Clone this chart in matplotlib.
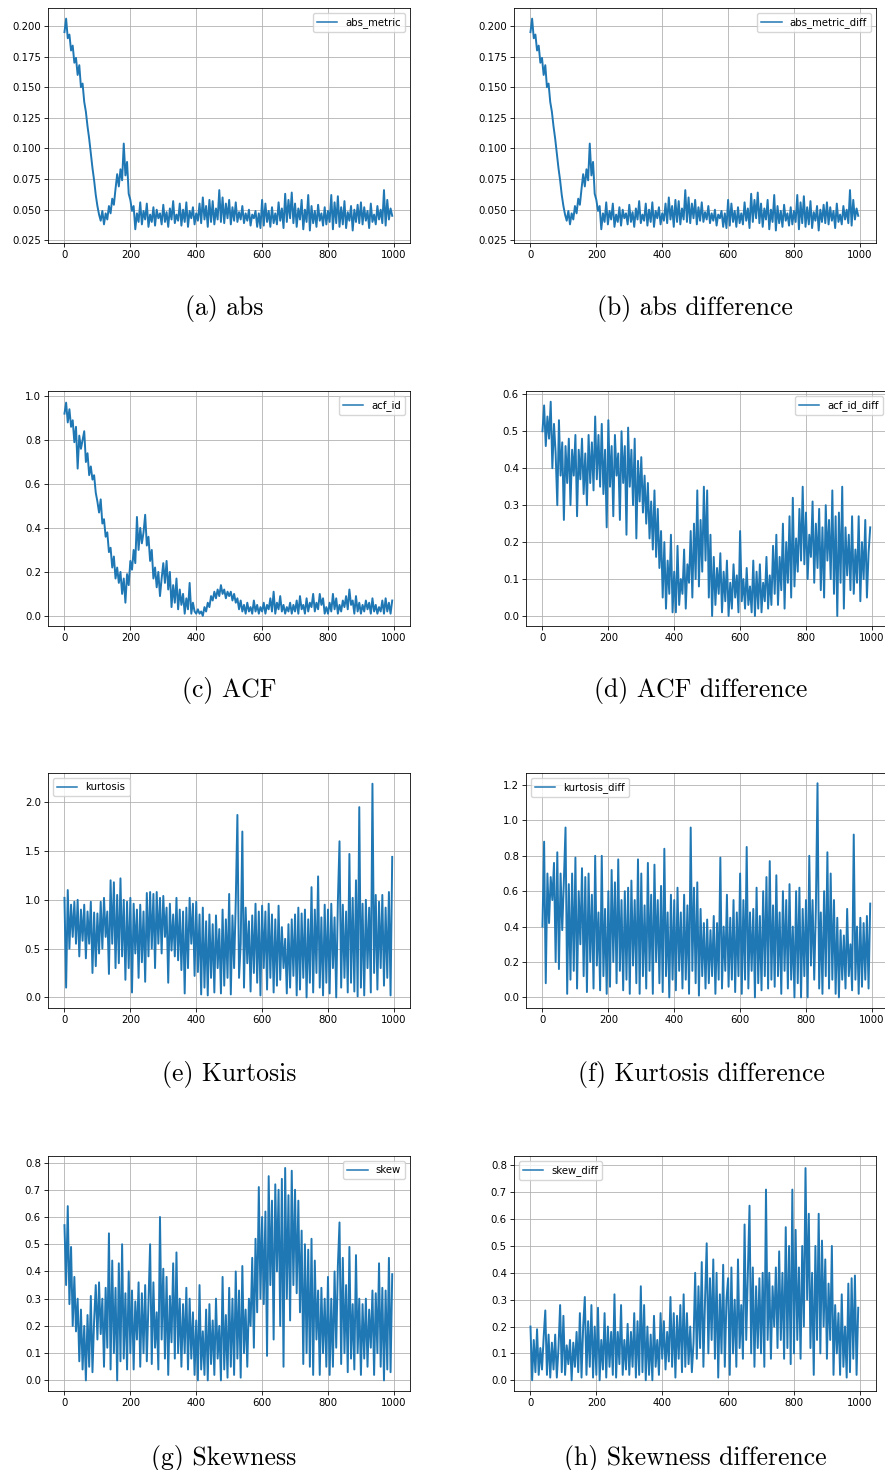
import numpy as np
import matplotlib
matplotlib.use("Agg")
import matplotlib.pyplot as plt
from matplotlib.ticker import MultipleLocator

# values, one sample every 5 steps (0 .. 995)
abs_metric = [
    0.195, 0.206, 0.190, 0.193, 0.180, 0.184, 0.170, 0.174, 0.160, 0.168, 0.150, 0.153, 0.138, 0.130, 0.118, 0.108, 0.096, 0.084, 0.074, 0.062,
    0.053, 0.046, 0.041, 0.049, 0.038, 0.047, 0.042, 0.053, 0.047, 0.059, 0.054, 0.067, 0.079, 0.069, 0.083, 0.074, 0.104, 0.078, 0.089, 0.063,
    0.058, 0.049, 0.053, 0.034, 0.047, 0.040, 0.056, 0.038, 0.049, 0.042, 0.055, 0.036, 0.046, 0.040, 0.052, 0.037, 0.050, 0.043, 0.047, 0.038,
    0.054, 0.040, 0.048, 0.036, 0.051, 0.042, 0.057, 0.039, 0.046, 0.041, 0.055, 0.037, 0.050, 0.040, 0.056, 0.036, 0.049, 0.043, 0.052, 0.038,
    0.047, 0.041, 0.055, 0.039, 0.060, 0.042, 0.053, 0.036, 0.058, 0.040, 0.057, 0.038, 0.051, 0.042, 0.066, 0.040, 0.060, 0.039, 0.055, 0.043,
    0.058, 0.038, 0.052, 0.041, 0.056, 0.040, 0.048, 0.042, 0.053, 0.039, 0.047, 0.041, 0.050, 0.037, 0.046, 0.043, 0.049, 0.036, 0.047, 0.035,
    0.058, 0.037, 0.055, 0.040, 0.049, 0.036, 0.052, 0.039, 0.047, 0.038, 0.056, 0.041, 0.051, 0.035, 0.063, 0.040, 0.058, 0.043, 0.064, 0.039,
    0.055, 0.036, 0.051, 0.042, 0.058, 0.034, 0.050, 0.040, 0.062, 0.033, 0.053, 0.039, 0.049, 0.036, 0.054, 0.041, 0.047, 0.037, 0.052, 0.038,
    0.049, 0.040, 0.062, 0.034, 0.056, 0.039, 0.061, 0.036, 0.052, 0.038, 0.057, 0.035, 0.048, 0.041, 0.053, 0.033, 0.050, 0.040, 0.054, 0.039,
    0.056, 0.038, 0.052, 0.041, 0.049, 0.035, 0.055, 0.040, 0.046, 0.038, 0.053, 0.042, 0.050, 0.039, 0.066, 0.037, 0.058, 0.042, 0.051, 0.045,
]
# the "diff" version of abs looks identical in the reference
abs_metric_diff = list(abs_metric)

acf_id = [
    0.92, 0.97, 0.88, 0.94, 0.86, 0.89, 0.79, 0.86, 0.67, 0.82, 0.76, 0.80, 0.84, 0.70, 0.74, 0.64, 0.68, 0.62, 0.64, 0.56,
    0.52, 0.47, 0.53, 0.42, 0.44, 0.36, 0.38, 0.29, 0.31, 0.22, 0.27, 0.17, 0.22, 0.15, 0.20, 0.10, 0.17, 0.06, 0.19, 0.14,
    0.25, 0.21, 0.30, 0.24, 0.45, 0.30, 0.40, 0.33, 0.38, 0.46, 0.32, 0.36, 0.25, 0.30, 0.17, 0.22, 0.13, 0.20, 0.09, 0.17,
    0.24, 0.15, 0.25, 0.12, 0.20, 0.04, 0.14, 0.06, 0.17, 0.03, 0.12, 0.05, 0.10, 0.01, 0.08, 0.03, 0.15, 0.01, 0.06, 0.02,
    0.01, 0.03, 0.01, 0.02, 0.00, 0.04, 0.02, 0.06, 0.04, 0.09, 0.07, 0.11, 0.08, 0.12, 0.09, 0.14, 0.10, 0.12, 0.08, 0.11,
    0.09, 0.11, 0.07, 0.10, 0.06, 0.08, 0.03, 0.07, 0.02, 0.05, 0.01, 0.06, 0.02, 0.04, 0.01, 0.07, 0.02, 0.05, 0.01, 0.04,
    0.02, 0.06, 0.01, 0.05, 0.03, 0.08, 0.02, 0.11, 0.01, 0.06, 0.03, 0.09, 0.02, 0.05, 0.01, 0.04, 0.02, 0.06, 0.01, 0.05,
    0.02, 0.07, 0.01, 0.09, 0.03, 0.05, 0.01, 0.08, 0.02, 0.06, 0.04, 0.10, 0.02, 0.06, 0.03, 0.10, 0.05, 0.08, 0.01, 0.04,
    0.01, 0.06, 0.02, 0.10, 0.03, 0.08, 0.01, 0.05, 0.02, 0.07, 0.04, 0.09, 0.03, 0.12, 0.05, 0.07, 0.01, 0.09, 0.02, 0.06,
    0.01, 0.05, 0.02, 0.07, 0.03, 0.06, 0.01, 0.08, 0.02, 0.05, 0.01, 0.04, 0.02, 0.07, 0.01, 0.08, 0.02, 0.06, 0.01, 0.07,
]

acf_id_diff = [
    0.50, 0.57, 0.46, 0.54, 0.48, 0.58, 0.40, 0.52, 0.44, 0.30, 0.53, 0.38, 0.47, 0.26, 0.46, 0.36, 0.48, 0.30, 0.45, 0.38,
    0.49, 0.27, 0.45, 0.37, 0.48, 0.33, 0.44, 0.30, 0.49, 0.36, 0.47, 0.34, 0.54, 0.37, 0.49, 0.35, 0.52, 0.33, 0.45, 0.24,
    0.53, 0.35, 0.46, 0.27, 0.49, 0.38, 0.44, 0.26, 0.50, 0.36, 0.46, 0.22, 0.51, 0.35, 0.45, 0.30, 0.48, 0.21, 0.42, 0.31,
    0.43, 0.28, 0.38, 0.25, 0.36, 0.21, 0.31, 0.18, 0.34, 0.16, 0.29, 0.13, 0.23, 0.05, 0.20, 0.02, 0.15, 0.06, 0.22, 0.01,
    0.12, 0.01, 0.19, 0.03, 0.10, 0.06, 0.18, 0.02, 0.14, 0.09, 0.23, 0.05, 0.25, 0.10, 0.34, 0.08, 0.26, 0.12, 0.35, 0.15,
    0.34, 0.05, 0.22, 0.00, 0.16, 0.03, 0.13, 0.06, 0.17, 0.01, 0.12, 0.04, 0.15, 0.00, 0.09, 0.02, 0.14, 0.05, 0.11, 0.01,
    0.23, 0.04, 0.10, 0.02, 0.13, 0.03, 0.08, 0.01, 0.15, 0.00, 0.12, 0.02, 0.14, 0.01, 0.09, 0.04, 0.16, 0.02, 0.11, 0.03,
    0.19, 0.06, 0.22, 0.03, 0.16, 0.07, 0.25, 0.02, 0.20, 0.09, 0.27, 0.05, 0.32, 0.08, 0.21, 0.12, 0.29, 0.15, 0.35, 0.14,
    0.28, 0.10, 0.22, 0.16, 0.31, 0.09, 0.25, 0.13, 0.29, 0.07, 0.24, 0.05, 0.30, 0.15, 0.26, 0.10, 0.34, 0.06, 0.27, 0.00,
    0.28, 0.09, 0.35, 0.02, 0.24, 0.11, 0.22, 0.07, 0.27, 0.06, 0.18, 0.09, 0.27, 0.04, 0.20, 0.10, 0.26, 0.05, 0.17, 0.24,
]

kurtosis = [
    1.02, 0.10, 1.10, 0.50, 0.95, 0.62, 0.98, 0.55, 1.00, 0.42, 0.90, 0.58, 0.95, 0.40, 0.88, 0.55, 0.98, 0.25, 0.87, 0.32,
    0.86, 0.45, 0.98, 0.50, 1.02, 0.62, 0.88, 0.24, 1.20, 0.55, 1.18, 0.30, 1.05, 0.35, 1.22, 0.42, 1.00, 0.18, 0.98, 0.30,
    1.02, 0.05, 0.96, 0.45, 0.90, 0.20, 0.95, 0.36, 0.88, 0.16, 1.07, 0.42, 1.08, 0.50, 1.06, 0.30, 1.08, 0.55, 1.02, 0.45,
    1.04, 0.62, 0.92, 0.15, 0.96, 0.48, 0.85, 0.42, 1.02, 0.38, 0.90, 0.28, 0.88, 0.04, 0.92, 0.30, 1.02, 0.55, 0.96, 0.22,
    0.98, 0.26, 0.85, 0.03, 0.92, 0.10, 0.78, 0.02, 0.85, 0.20, 0.75, 0.05, 0.84, 0.30, 0.70, 0.04, 0.90, 0.12, 0.80, 0.20,
    1.06, 0.03, 0.84, 0.30, 0.98, 1.87, 0.20, 0.55, 1.70, 0.10, 0.92, 0.35, 0.78, 0.06, 0.84, 0.25, 0.96, 0.15, 0.88, 0.02,
    0.94, 0.30, 0.88, 0.08, 0.96, 0.20, 0.85, 0.05, 0.80, 0.12, 0.94, 0.18, 0.72, 0.30, 0.60, 0.04, 0.75, 0.10, 0.80, 0.22,
    0.85, 0.02, 0.92, 0.08, 0.86, 0.20, 0.90, 0.00, 0.80, 0.15, 1.13, 0.05, 0.90, 0.25, 1.24, 0.10, 0.82, 0.02, 0.95, 0.15,
    0.90, 0.04, 0.96, 0.30, 0.82, 0.00, 0.98, 1.60, 0.10, 0.95, 0.20, 0.88, 0.05, 1.47, 0.15, 1.02, 0.06, 1.20, 0.01, 1.95,
    0.10, 0.96, 0.02, 1.00, 0.30, 0.92, 0.05, 2.19, 0.25, 1.05, 0.08, 0.98, 0.30, 1.05, 0.12, 0.92, 0.20, 1.08, 0.02, 1.44,
]

kurtosis_diff = [
    0.40, 0.88, 0.08, 0.70, 0.42, 0.68, 0.55, 0.76, 0.20, 0.82, 0.16, 0.70, 0.38, 0.66, 0.96, 0.02, 0.64, 0.10, 0.70, 0.15,
    0.79, 0.05, 0.60, 0.30, 0.73, 0.12, 0.68, 0.03, 0.70, 0.20, 0.58, 0.05, 0.80, 0.18, 0.48, 0.04, 0.80, 0.12, 0.50, 0.02,
    0.60, 0.06, 0.72, 0.20, 0.65, 0.08, 0.78, 0.15, 0.55, 0.04, 0.60, 0.10, 0.62, 0.02, 0.66, 0.18, 0.55, 0.08, 0.78, 0.02,
    0.70, 0.12, 0.52, 0.05, 0.76, 0.15, 0.58, 0.02, 0.75, 0.20, 0.55, 0.08, 0.63, 0.03, 0.84, 0.12, 0.48, 0.00, 0.58, 0.10,
    0.55, 0.04, 0.62, 0.15, 0.48, 0.05, 0.58, 0.10, 0.52, 0.02, 0.96, 0.15, 0.62, 0.08, 0.65, 0.01, 0.50, 0.12, 0.42, 0.05,
    0.44, 0.08, 0.38, 0.12, 0.46, 0.02, 0.42, 0.10, 0.79, 0.05, 0.40, 0.15, 0.58, 0.06, 0.45, 0.10, 0.55, 0.03, 0.48, 0.12,
    0.70, 0.02, 0.55, 0.10, 0.85, 0.05, 0.48, 0.15, 0.50, 0.00, 0.62, 0.08, 0.46, 0.04, 0.60, 0.12, 0.68, 0.05, 0.77, 0.10,
    0.52, 0.06, 0.69, 0.12, 0.48, 0.02, 0.60, 0.15, 0.55, 0.05, 0.64, 0.10, 0.40, 0.00, 0.60, 0.08, 0.62, 0.00, 0.50, 0.12,
    0.55, 0.00, 0.80, 0.18, 0.55, 0.10, 0.50, 1.21, 0.05, 0.48, 0.02, 0.60, 0.12, 0.82, 0.05, 0.70, 0.10, 0.55, 0.02, 0.45,
    0.00, 0.38, 0.10, 0.35, 0.05, 0.50, 0.12, 0.30, 0.04, 0.92, 0.10, 0.40, 0.02, 0.45, 0.06, 0.42, 0.10, 0.46, 0.05, 0.53,
]

skew = [
    0.57, 0.35, 0.64, 0.28, 0.49, 0.20, 0.38, 0.18, 0.30, 0.07, 0.26, 0.04, 0.20, 0.00, 0.24, 0.05, 0.31, 0.03, 0.22, 0.35,
    0.15, 0.36, 0.17, 0.30, 0.05, 0.34, 0.12, 0.54, 0.04, 0.44, 0.10, 0.34, 0.00, 0.43, 0.07, 0.50, 0.08, 0.32, 0.04, 0.40,
    0.10, 0.33, 0.04, 0.29, 0.15, 0.36, 0.05, 0.32, 0.10, 0.35, 0.07, 0.28, 0.50, 0.06, 0.36, 0.12, 0.25, 0.04, 0.60, 0.15,
    0.41, 0.08, 0.38, 0.02, 0.31, 0.14, 0.43, 0.08, 0.47, 0.10, 0.30, 0.05, 0.28, 0.10, 0.34, 0.04, 0.30, 0.08, 0.25, 0.02,
    0.22, 0.00, 0.35, 0.04, 0.18, 0.02, 0.26, 0.00, 0.28, 0.06, 0.22, 0.02, 0.30, 0.08, 0.20, 0.00, 0.38, 0.04, 0.24, 0.01,
    0.34, 0.05, 0.30, 0.02, 0.40, 0.08, 0.33, 0.01, 0.42, 0.10, 0.26, 0.05, 0.30, 0.20, 0.45, 0.12, 0.52, 0.25, 0.71, 0.30,
    0.60, 0.28, 0.62, 0.09, 0.75, 0.35, 0.66, 0.15, 0.72, 0.40, 0.70, 0.20, 0.74, 0.05, 0.78, 0.30, 0.68, 0.22, 0.77, 0.35,
    0.70, 0.32, 0.66, 0.25, 0.55, 0.06, 0.50, 0.10, 0.48, 0.05, 0.52, 0.02, 0.44, 0.15, 0.33, 0.02, 0.34, 0.10, 0.30, 0.05,
    0.38, 0.02, 0.30, 0.05, 0.40, 0.12, 0.42, 0.58, 0.06, 0.45, 0.10, 0.35, 0.03, 0.49, 0.08, 0.28, 0.04, 0.46, 0.10, 0.30,
    0.02, 0.28, 0.08, 0.30, 0.05, 0.26, 0.12, 0.33, 0.02, 0.32, 0.10, 0.43, 0.05, 0.34, 0.00, 0.33, 0.04, 0.45, 0.03, 0.39,
]

skew_diff = [
    0.20, 0.00, 0.15, 0.03, 0.19, 0.02, 0.12, 0.04, 0.16, 0.26, 0.02, 0.17, 0.01, 0.14, 0.04, 0.17, 0.01, 0.12, 0.28, 0.03,
    0.24, 0.02, 0.13, 0.06, 0.15, 0.00, 0.14, 0.05, 0.18, 0.03, 0.25, 0.01, 0.20, 0.31, 0.02, 0.22, 0.05, 0.28, 0.01, 0.20,
    0.02, 0.27, 0.00, 0.15, 0.04, 0.25, 0.01, 0.20, 0.05, 0.18, 0.02, 0.32, 0.01, 0.18, 0.06, 0.28, 0.02, 0.15, 0.04, 0.21,
    0.02, 0.18, 0.05, 0.25, 0.01, 0.22, 0.02, 0.35, 0.03, 0.28, 0.00, 0.20, 0.02, 0.17, 0.00, 0.24, 0.05, 0.15, 0.02, 0.25,
    0.08, 0.22, 0.04, 0.18, 0.07, 0.31, 0.05, 0.25, 0.01, 0.24, 0.08, 0.28, 0.03, 0.32, 0.05, 0.25, 0.06, 0.20, 0.03, 0.14,
    0.40, 0.08, 0.35, 0.12, 0.44, 0.05, 0.30, 0.51, 0.10, 0.38, 0.15, 0.45, 0.08, 0.40, 0.01, 0.32, 0.10, 0.43, 0.05, 0.30,
    0.38, 0.02, 0.42, 0.10, 0.30, 0.05, 0.45, 0.12, 0.28, 0.08, 0.58, 0.15, 0.40, 0.65, 0.10, 0.42, 0.05, 0.35, 0.12, 0.38,
    0.10, 0.40, 0.05, 0.71, 0.15, 0.40, 0.08, 0.35, 0.20, 0.42, 0.12, 0.48, 0.15, 0.40, 0.08, 0.57, 0.12, 0.50, 0.06, 0.71,
    0.10, 0.56, 0.15, 0.42, 0.08, 0.50, 0.20, 0.79, 0.30, 0.62, 0.12, 0.40, 0.02, 0.50, 0.15, 0.62, 0.10, 0.52, 0.20, 0.45,
    0.08, 0.36, 0.15, 0.50, 0.02, 0.28, 0.10, 0.25, 0.02, 0.32, 0.05, 0.20, 0.01, 0.36, 0.03, 0.38, 0.08, 0.39, 0.02, 0.27,
]

step = 5
captions = ["(a) abs", "(b) abs difference", "(c) ACF", "(d) ACF difference",
            "(e) Kurtosis", "(f) Kurtosis difference", "(g) Skewness", "(h) Skewness difference"]

# panel setup: data, label, legend loc, ylim, y tick step
panels = [
    (abs_metric,      "abs_metric",      "upper right", (0.0228, 0.2147), 0.025),
    (abs_metric_diff, "abs_metric_diff", "upper right", (0.0228, 0.2147), 0.025),
    (acf_id,          "acf_id",          "upper right", (-0.046, 1.023),  0.2),
    (acf_id_diff,     "acf_id_diff",     "upper right", (-0.027, 0.609),  0.1),
    (kurtosis,        "kurtosis",        "upper left",  (-0.109, 2.30),   0.5),
    (kurtosis_diff,   "kurtosis_diff",   "upper left",  (-0.060, 1.268),  0.2),
    (skew,            "skew",            "upper right", (-0.039, 0.824),  0.1),
    (skew_diff,       "skew_diff",       "upper left",  (-0.040, 0.835),  0.1),
]

# pixel boxes (left, top) of every axes in the 885x1470 picture
W, H = 885.0, 1470.0
ax_w, ax_h = 362.0, 235.0
ax_boxes = [(48, 8), (514, 8), (48, 391), (526, 391),
            (48, 773), (526, 773), (48, 1156), (514, 1156)]
cap_pos = [(224, 308), (695, 308), (229, 691), (701, 691),
           (229, 1074), (701, 1074), (224, 1458), (695, 1458)]

s = 0.73  # shrink factor of the original sub figures
plt.rcParams["font.size"] = 10 * s

fig = plt.figure(figsize=(W / 100, H / 100), dpi=100)

for idx in range(len(panels)):
    vals, label, loc, ylim, ystep = panels[idx]
    left, top = ax_boxes[idx]
    ax = fig.add_axes([left / W, 1 - (top + ax_h) / H, ax_w / W, ax_h / H])
    xs = np.arange(len(vals)) * step
    ax.plot(xs, vals, color="#1f77b4", linewidth=1.4, label=label)
    ax.set_xlim(-50, 1049)
    ax.set_ylim(*ylim)
    ax.xaxis.set_major_locator(MultipleLocator(200))
    ax.yaxis.set_major_locator(MultipleLocator(ystep))
    ax.grid(True, color="#b0b0b0", linewidth=0.8 * s)
    ax.tick_params(labelsize=10 * s, length=3.5 * s, width=0.8 * s, pad=3.5 * s)
    for sp in ax.spines.values():
        sp.set_linewidth(0.8 * s)
    # these sub figures are cut at the right border of the page
    if left + ax_w > W:
        ax.spines["right"].set_visible(False)
    leg = ax.legend(loc=loc, fontsize=10 * s, handlelength=2.0)
    for ln in leg.get_lines():
        ln.set_linewidth(1.5 * s)

    cx, cy = cap_pos[idx]
    fig.text(cx / W, 1 - cy / H, captions[idx], family="cmr10", fontsize=18.5,
             ha="center", va="center")

fig.savefig("out.png", dpi=100, facecolor="w")
